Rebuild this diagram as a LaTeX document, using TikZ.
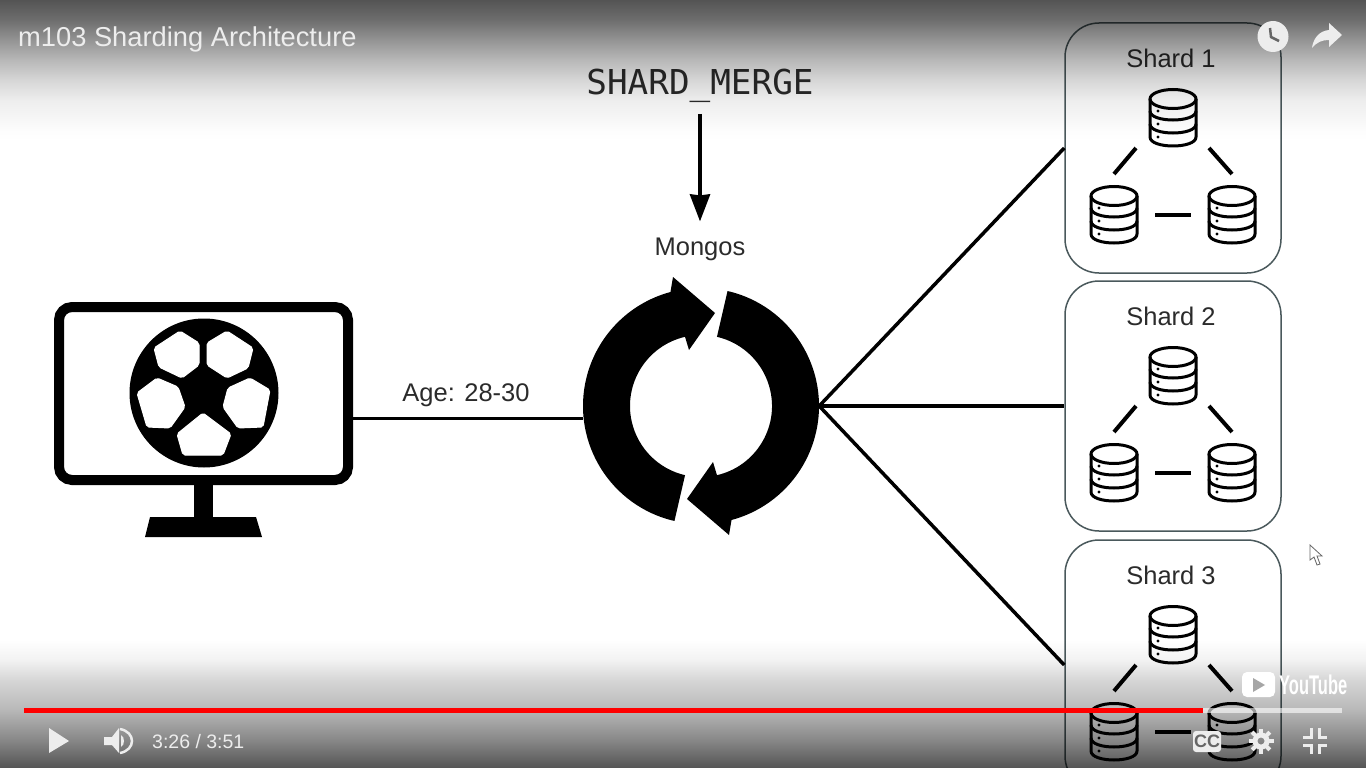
\documentclass[tikz,border=0pt]{standalone}
\usepackage{fontspec}
\setmainfont{Liberation Sans}
\setmonofont{DejaVu Sans Mono}
\usetikzlibrary{arrows.meta,calc}
\definecolor{shardline}{rgb}{0.29,0.35,0.36}
\definecolor{inkgray}{rgb}{0.17,0.17,0.17}
\definecolor{iconwhite}{rgb}{0.93,0.93,0.93}
\definecolor{barred}{rgb}{1,0,0}
\pgfdeclareverticalshading{topshade}{100bp}{
  color(0bp)=(white); color(25bp)=(white); color(28.57bp)=(black!1);
  color(39.29bp)=(black!7); color(46.43bp)=(black!16); color(53.57bp)=(black!28);
  color(60.71bp)=(black!42); color(67.86bp)=(black!57); color(75bp)=(black!67); color(100bp)=(black!67)}
\pgfdeclareverticalshading{bottomshade}{100bp}{
  color(0bp)=(black!67); color(25bp)=(black!67); color(35.9bp)=(black!47);
  color(47.7bp)=(black!28); color(59.4bp)=(black!16); color(67.2bp)=(black!5); color(75bp)=(white); color(100bp)=(white)}
\tikzset{
    link/.style={draw=black, line width=3.5pt},
    shardbox/.style={
           rectangle,
           rounded corners=34pt,
           draw=shardline, line width=1.5pt,
           minimum width=216pt,
           minimum height=250pt
           },
    label/.style={text=inkgray, inner sep=0pt, font=\fontsize{25.5}{30}\selectfont},
    peer/.style={draw=black, line width=4pt},
    dbicon/.pic={
        \draw[line width=3pt, line join=round] (-23,-19) -- (-23,19) .. controls (-23,31) and (23,31) .. (23,19) -- (23,-19);
        \draw[line width=3pt] (0,-19) ellipse [x radius=23pt, y radius=9.5pt];
        \draw[line width=3pt] (-23,-7) .. controls (-23,5) and (23,5) .. (23,-7);
        \draw[line width=3pt] (-23,6) .. controls (-23,18) and (23,18) .. (23,6);
        \fill (-15,-7) circle (1.7pt) (-15,6) circle (1.7pt) (-15,19) circle (1.7pt);
        \coordinate (-n) at (0,-41);
        \coordinate (-w) at (-41,0);
        \coordinate (-e) at (41,0);
        \coordinate (-sw) at (-37,30);
        \coordinate (-se) at (36,30);
    },
    patch/.style={fill=white, draw=white, line width=1pt, rounded corners=2pt},
    overlaytext/.style={text=iconwhite, inner sep=0pt, anchor=west},
}

\begin{document}
\begin{tikzpicture}[x=1pt,y=-1pt]
\clip (0,0) rectangle (1366,768);
\fill[white] (0,0) rectangle (1366,768);

% Monitor
\node[draw=black, line width=10pt, rounded corners=13pt, minimum width=289pt, minimum height=173pt] (SCREEN) at (203.5,393.5) {};
\fill (194,485) rectangle (213,518);
\fill (150,517) -- (256,517) -- (262,537) -- (145,537) -- cycle;

% Ball
\node[circle, fill=black, inner sep=0pt, minimum size=149pt] (BALL) at (204,393) {};
\path[patch] (180,331) -- (199,343) -- (199,365) -- (182,378) -- (159,367) -- (154,348) -- cycle;
\path[patch] (227,331) -- (207,343) -- (207,365) -- (227,378) -- (248,368) -- (253,348) -- cycle;
\path[patch] (157,378) -- (178,387) -- (185,407) -- (170,428) -- (147,427) -- (137,393) -- cycle;
\path[patch] (250,378) -- (270,390) -- (263,427) -- (238,428) -- (223,407) -- (228,388) -- cycle;
\path[patch] (203,413) -- (231,434) -- (223,455) -- (183,455) -- (177,434) -- cycle;

% Mongos
\node[circle, inner sep=0pt, minimum size=236pt] (MONGOS) at (701,406) {};
\foreach \turn in {0,180}{
\begin{scope}[shift={(MONGOS.center)}, x=1pt, y=1pt, rotate=\turn]
\fill (257:118) arc[start angle=257, end angle=105, radius=118pt] -- (-28,129) -- (14,93) -- (-12,56) -- (103:71) arc[start angle=103, end angle=257, radius=71pt] -- cycle;
\end{scope}
}

\node[label] (MONGOSLABEL) at (700,249) {Mongos};
\node[font=\ttfamily\fontsize{34.3}{36}\selectfont, text=inkgray, inner sep=0pt] (MERGE) at (700,86) {SHARD\_MERGE};
\draw[link, -{Stealth[length=27pt,width=20pt,inset=1pt]}] ([yshift=-11pt]MERGE.center |- MERGE.south) -- ([yshift=16pt]MONGOSLABEL.north);

\node[label] (AGE) at (466,395) {Age: 28-30};
\draw[link] (SCREEN.east |- MONGOS.186) -- (MONGOS.186);

% Shards
\foreach \n/\ymid in {1/148,2/406,3/665}{
  \node[shardbox] (SHARD\n) at (1173,\ymid) {};
  \node[label] (SHARDLABEL\n) at ([shift={(-2,-90)}]SHARD\n.center) {Shard \n};
  \pic (TOP\n) at ([shift={(0,-30)}]SHARD\n.center) {dbicon};
  \pic (LEFT\n) at ([shift={(-59,67)}]SHARD\n.center) {dbicon};
  \pic (RIGHT\n) at ([shift={(59,67)}]SHARD\n.center) {dbicon};
  \draw[peer] (TOP\n-sw) -- (LEFT\n-n);
  \draw[peer] (TOP\n-se) -- (RIGHT\n-n);
  \draw[peer] (LEFT\n-e) -- (RIGHT\n-w);
  \draw[link] (MONGOS.east) -- (SHARD\n.west);
}

% Mouse pointer
\draw[draw=black!60, fill=white, line width=0.8pt] (1310,545) -- (1310,560) -- (1314,557) -- (1317,565) -- (1320,564) -- (1317,556) -- (1322,556) -- cycle;

% Player shades
\shade[shading=topshade, blend mode=multiply] (0,0) rectangle (1366,140);
\shade[shading=bottomshade, blend mode=multiply] (0,640) rectangle (1366,768);

% Player controls
\node[overlaytext, font=\fontsize{27.3}{30}\selectfont] (TITLE) at (18,39) {m103 Sharding Architecture};

\node[circle, fill=iconwhite, inner sep=0pt, minimum size=31pt] (CLOCK) at (1273,36.5) {};
\draw[draw=black!60, line width=2.5pt] (1270,28) -- (1271,37) -- (1279,41);
\fill[iconwhite] (1342,35) -- (1329,23) -- (1329,30) .. controls (1318,31) and (1313,40) .. (1312,48) .. controls (1317,42) and (1322,40) .. (1329,40) -- (1329,47) -- cycle;

\node[fill=white, rounded corners=5pt, minimum width=33pt, minimum height=25pt, inner sep=0pt] (LOGO) at (1258.5,684.5) {};
\fill[black!35] (1253,678) -- (1265,685) -- (1253,692) -- cycle;
\node[overlaytext, text=white, font=\bfseries\fontsize{27}{28}\selectfont] (BRAND) at (1279,685) {\scalebox{0.61}[1]{YouTube}};

\fill[white, opacity=0.6] (1203,708) rectangle (1342,713);
\fill[barred] (24,708) rectangle (1203,713);

\fill[iconwhite] (49,728) -- (69,741) -- (49,753) -- cycle;
\fill[iconwhite] (104,737) -- (112,737) -- (119,728) -- (119,753) -- (112,745) -- (104,745) -- cycle;
\fill[iconwhite] (121,735) .. controls (125,737) and (125,745) .. (121,747) -- cycle;
\draw[iconwhite, line width=2.5pt] (120,729) .. controls (136,732) and (136,750) .. (120,753);
\node[overlaytext, font=\fontsize{19.5}{22}\selectfont] (TIME) at (152,742) {3:26 / 3:51};

\node[fill=iconwhite, rounded corners=3pt, minimum width=28pt, minimum height=21pt, inner sep=0pt, text=black!60, font=\bfseries\fontsize{18}{20}\selectfont] (CAPTIONS) at (1207,741.5) {CC};

\node[circle, draw=iconwhite, line width=5pt, inner sep=0pt, minimum size=12pt] (GEAR) at (1261,741) {};
\foreach \a in {0,45,...,315}
  \draw[iconwhite, line width=4pt] ([shift={(\a:8)}]GEAR.center) -- ([shift={(\a:12.5)}]GEAR.center);

\draw[iconwhite, line width=3pt] (1303,737) -- (1311,737) -- (1311,728);
\draw[iconwhite, line width=3pt] (1327,737) -- (1319,737) -- (1319,728);
\draw[iconwhite, line width=3pt] (1303,745) -- (1311,745) -- (1311,754);
\draw[iconwhite, line width=3pt] (1327,745) -- (1319,745) -- (1319,754);
\end{tikzpicture}
\end{document}
